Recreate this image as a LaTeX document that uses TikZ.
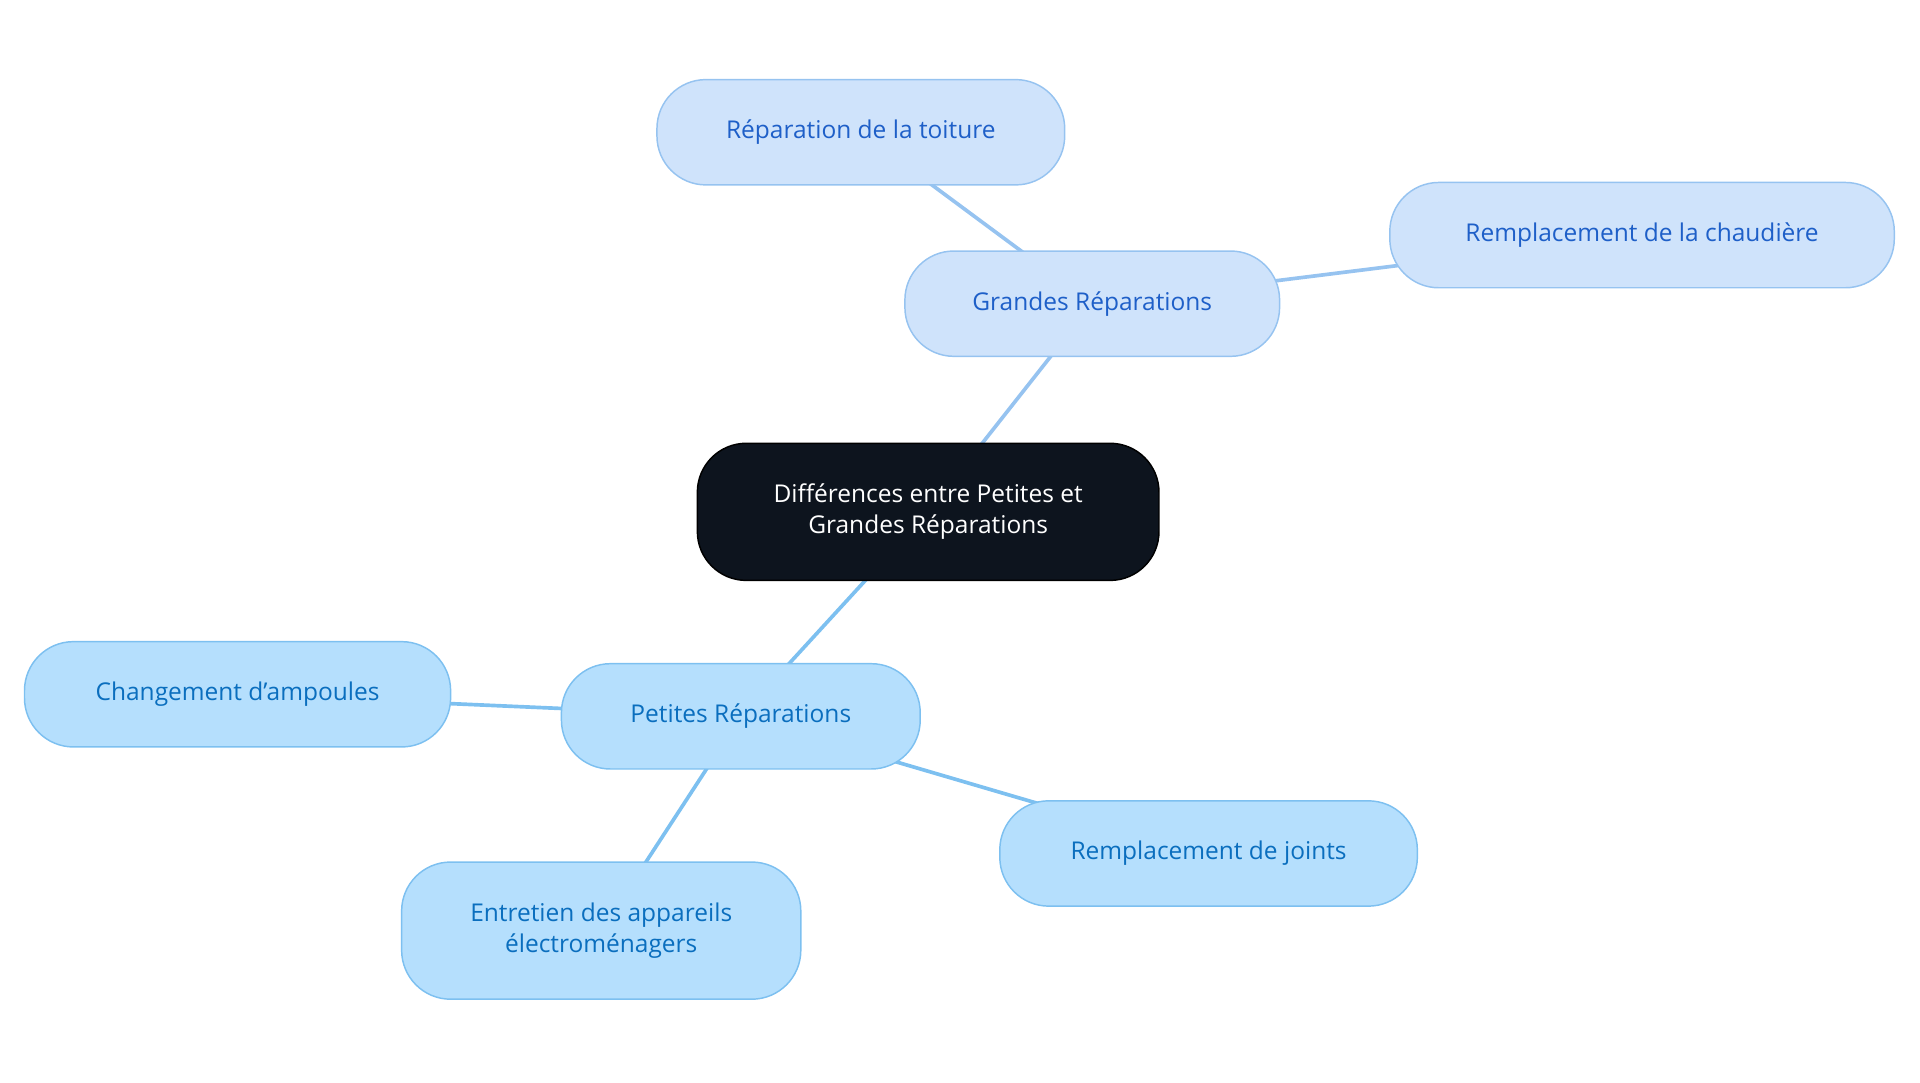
\documentclass[tikz,border=0pt]{standalone}
\usepackage{fontspec}
\setmainfont{Open Sans}
\usetikzlibrary{positioning}
\definecolor{rootfill}{RGB}{13,20,30}
\definecolor{bigfill}{RGB}{207,227,251}
\definecolor{bigdraw}{RGB}{150,195,240}
\definecolor{bigtext}{RGB}{30,95,200}
\definecolor{smallfill}{RGB}{181,223,253}
\definecolor{smalldraw}{RGB}{125,192,240}
\definecolor{smalltext}{RGB}{10,110,190}
\tikzset{font=\fontsize{20}{25}\selectfont}

\begin{document}
\begin{tikzpicture}[x=1pt,y=-1pt,
  box/.style={
    rounded corners=40pt,
    draw,
    line width=1.2pt,
    minimum height=86pt,
    align=center,
    inner sep=0pt
  },
  root/.style={box, fill=rootfill, draw=black, text=white, minimum height=112pt},
  big/.style={box, fill=bigfill, draw=bigdraw, text=bigtext},
  small/.style={box, fill=smallfill, draw=smalldraw, text=smalltext},
  link/.style={line width=3pt, draw=#1}
]
\useasboundingbox (0,0) rectangle (1568,884);

%the links
\coordinate (c) at (758,418);
\coordinate (g) at (892,248);
\coordinate (p) at (605,585);
\draw[link=bigdraw] (c) -- (g);
\draw[link=bigdraw] (g) -- (703,108) coordinate (g1);
\draw[link=bigdraw] (g) -- (1341,192) coordinate (g2);
\draw[link=smalldraw] (c) -- (p);
\draw[link=smalldraw] (p) -- (194,567) coordinate (p1);
\draw[link=smalldraw] (p) -- (491,760) coordinate (p2);
\draw[link=smalldraw] (p) -- (987,697) coordinate (p3);

%the nodes
\node[root, minimum width=377pt] (root) at (c) {Différences entre Petites et\\Grandes Réparations};
\node[big, minimum width=306pt] (grandes) at (g) {Grandes Réparations};
\node[big, minimum width=333pt] (toiture) at (g1) {Réparation de la toiture};
\node[big, minimum width=412pt] (chaudiere) at (g2) {Remplacement de la chaudière};
\node[small, minimum width=293pt] (petites) at (p) {Petites Réparations};
\node[small, minimum width=348pt] (ampoules) at (p1) {Changement d'ampoules};
\node[small, minimum width=326pt, minimum height=112pt] (appareils) at (p2) {Entretien des appareils\\électroménagers};
\node[small, minimum width=341pt] (joints) at (p3) {Remplacement de joints};
\end{tikzpicture}
\end{document}
